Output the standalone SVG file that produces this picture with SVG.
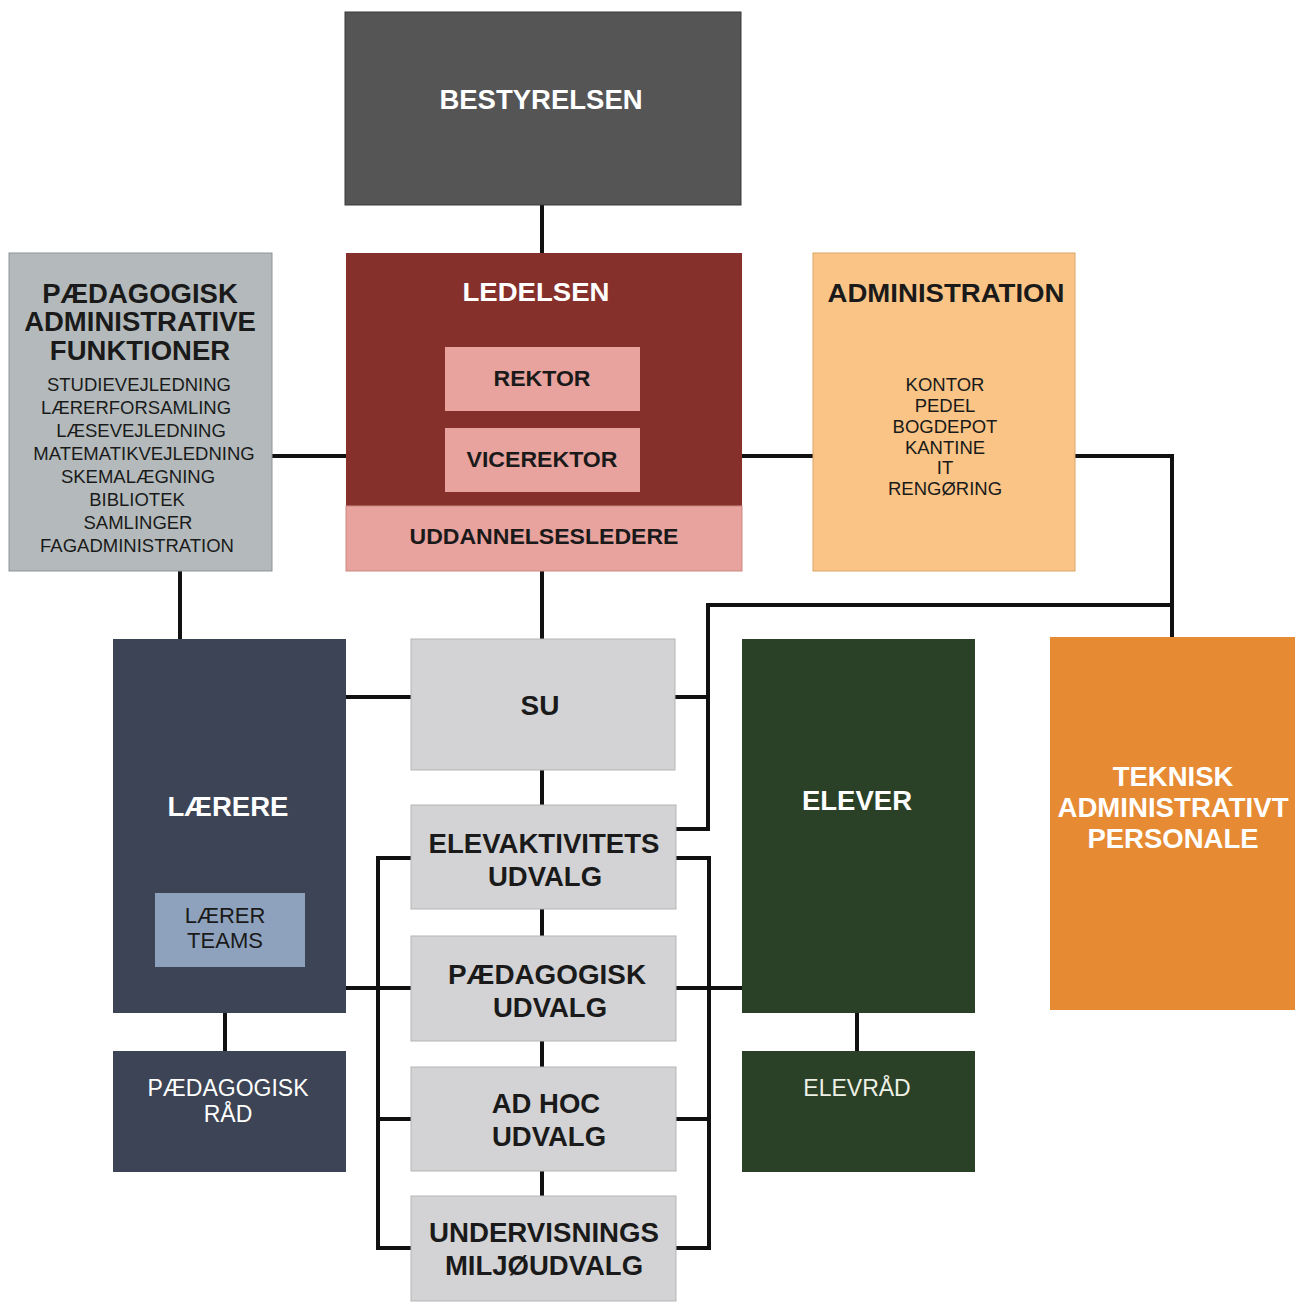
<svg xmlns="http://www.w3.org/2000/svg" width="1295" height="1303" viewBox="0 0 1295 1303">
<style>
text{font-family:"Liberation Sans",Arial,sans-serif;text-anchor:middle}
.b{font-weight:bold}
.w{fill:#ffffff}
.d{fill:#1a1a1a}
.ln{fill:none;stroke:#111;stroke-width:4}
.gbox{fill:#d3d3d5;stroke:#b5b5b8;stroke-width:1}
</style>
<rect width="1295" height="1303" fill="#ffffff"/>
<g id="connectors">
<path class="ln" d="M542 205V253"/>
<path class="ln" d="M272 456H346"/>
<path class="ln" d="M742 456H813"/>
<path class="ln" d="M1075 456H1172V637"/>
<path class="ln" d="M1172 605H708V829H676"/>
<path class="ln" d="M675 697H708"/>
<path class="ln" d="M180 571V639"/>
<path class="ln" d="M542 571V639"/>
<path class="ln" d="M542 770V805M542 909V936M542 1041V1067M542 1171V1196"/>
<path class="ln" d="M346 697H411"/>
<path class="ln" d="M346 988H411"/>
<path class="ln" d="M411 858H378V1248H411M378 1119H411"/>
<path class="ln" d="M676 858H709V1248H676M676 1119H709M676 988H742"/>
<path class="ln" d="M225 1013V1051"/>
<path class="ln" d="M857 1013V1051"/>
</g>
<g id="bestyrelsen">
<rect x="345" y="12" width="396" height="193" fill="#555556" stroke="#3a3a3a" stroke-width="1"/>
<text x="541" y="108.5" class="b w" font-size="27.5">BESTYRELSEN</text>
</g>
<g id="ledelsen">
<rect x="346" y="253" width="396" height="253" fill="#86302b"/>
<rect x="346" y="506" width="396" height="65" fill="#e9a39e" stroke="#c98882" stroke-width="1"/>
<text x="536" y="301" class="b w" font-size="26" textLength="147" lengthAdjust="spacingAndGlyphs">LEDELSEN</text>
<text x="544" y="543.5" class="b d" font-size="22" textLength="269" lengthAdjust="spacingAndGlyphs">UDDANNELSESLEDERE</text>
</g>
<g id="rektor">
<rect x="445" y="347" width="195" height="64" fill="#e9a39e"/>
<text x="542" y="385.5" class="b d" font-size="22" textLength="97" lengthAdjust="spacingAndGlyphs">REKTOR</text>
</g>
<g id="vicerektor">
<rect x="445" y="428" width="195" height="64" fill="#e9a39e"/>
<text x="542" y="466.5" class="b d" font-size="22" textLength="151" lengthAdjust="spacingAndGlyphs">VICEREKTOR</text>
</g>
<g id="paedagogisk-adm">
<rect x="9" y="253" width="263" height="318" fill="#b4babc" stroke="#8f9597" stroke-width="1"/>
<text x="140" y="302.5" class="b d" font-size="27.5">PÆDAGOGISK</text>
<text x="140" y="331" class="b d" font-size="27.5">ADMINISTRATIVE</text>
<text x="140" y="360" class="b d" font-size="27.5">FUNKTIONER</text>
<text x="139" y="390.5" class="d" font-size="18.5">STUDIEVEJLEDNING</text>
<text x="136" y="413.5" class="d" font-size="18.5">LÆRERFORSAMLING</text>
<text x="141" y="436.5" class="d" font-size="18.5">LÆSEVEJLEDNING</text>
<text x="144" y="459.5" class="d" font-size="18.5">MATEMATIKVEJLEDNING</text>
<text x="138" y="482.5" class="d" font-size="18.5">SKEMALÆGNING</text>
<text x="137" y="505.5" class="d" font-size="18.5">BIBLIOTEK</text>
<text x="138" y="528.5" class="d" font-size="18.5">SAMLINGER</text>
<text x="137" y="551.5" class="d" font-size="18.5">FAGADMINISTRATION</text>
</g>
<g id="administration">
<rect x="813" y="253" width="262" height="318" fill="#f9c486" stroke="#d9a66a" stroke-width="1"/>
<text x="946" y="302" class="b d" font-size="26" textLength="237" lengthAdjust="spacingAndGlyphs">ADMINISTRATION</text>
<text x="945" y="390.5" class="d" font-size="18.5">KONTOR</text>
<text x="945" y="411.5" class="d" font-size="18.5">PEDEL</text>
<text x="945" y="432.5" class="d" font-size="18.5">BOGDEPOT</text>
<text x="945" y="453.5" class="d" font-size="18.5">KANTINE</text>
<text x="945" y="473.5" class="d" font-size="18.5">IT</text>
<text x="945" y="494.5" class="d" font-size="18.5">RENGØRING</text>
</g>
<g id="su">
<rect x="411" y="639" width="264" height="131" class="gbox"/>
<text x="540" y="714.5" class="b d" font-size="28">SU</text>
</g>
<g id="elevaktivitets">
<rect x="411" y="805" width="265" height="104" class="gbox"/>
<text x="544" y="852.5" class="b d" font-size="27.5" textLength="231" lengthAdjust="spacingAndGlyphs">ELEVAKTIVITETS</text>
<text x="545" y="885.5" class="b d" font-size="27.5">UDVALG</text>
</g>
<g id="paedagogisk-udvalg">
<rect x="411" y="936" width="265" height="105" class="gbox"/>
<text x="547" y="983.5" class="b d" font-size="27.5" textLength="198" lengthAdjust="spacingAndGlyphs">PÆDAGOGISK</text>
<text x="550" y="1016.5" class="b d" font-size="27.5">UDVALG</text>
</g>
<g id="adhoc">
<rect x="411" y="1067" width="265" height="104" class="gbox"/>
<text x="546" y="1112.5" class="b d" font-size="27.5">AD HOC</text>
<text x="549" y="1145.5" class="b d" font-size="27.5">UDVALG</text>
</g>
<g id="undervisnings">
<rect x="411" y="1196" width="265" height="105" class="gbox"/>
<text x="544" y="1241.5" class="b d" font-size="27.5" textLength="230" lengthAdjust="spacingAndGlyphs">UNDERVISNINGS</text>
<text x="544" y="1274.5" class="b d" font-size="27.5">MILJØUDVALG</text>
</g>
<g id="laerere">
<rect x="113" y="639" width="233" height="374" fill="#3d4455"/>
<text x="228" y="815.5" class="b w" font-size="27.5" textLength="121" lengthAdjust="spacingAndGlyphs">LÆRERE</text>
</g>
<g id="laerer-teams">
<rect x="155" y="893" width="150" height="74" fill="#8ea2bd"/>
<text x="225" y="923" class="d" font-size="22" fill="#222">LÆRER</text>
<text x="225" y="948" class="d" font-size="22" fill="#222">TEAMS</text>
</g>
<g id="paedagogisk-raad">
<rect x="113" y="1051" width="233" height="121" fill="#3d4455"/>
<text x="228" y="1096" class="w" font-size="23">PÆDAGOGISK</text>
<text x="228" y="1122" class="w" font-size="23">RÅD</text>
</g>
<g id="elever">
<rect x="742" y="639" width="233" height="374" fill="#2a4127"/>
<text x="857" y="809.5" class="b w" font-size="27.5">ELEVER</text>
</g>
<g id="elevraad">
<rect x="742" y="1051" width="233" height="121" fill="#2a4127"/>
<text x="857" y="1096" font-size="23" fill="#eef0e6">ELEVRÅD</text>
</g>
<g id="teknisk">
<rect x="1050" y="637" width="245" height="373" fill="#e68a33"/>
<text x="1173" y="785.5" class="b w" font-size="27.5">TEKNISK</text>
<text x="1173" y="816.5" class="b w" font-size="27.5" textLength="231" lengthAdjust="spacingAndGlyphs">ADMINISTRATIVT</text>
<text x="1173" y="847.5" class="b w" font-size="27.5">PERSONALE</text>
</g>
</svg>
